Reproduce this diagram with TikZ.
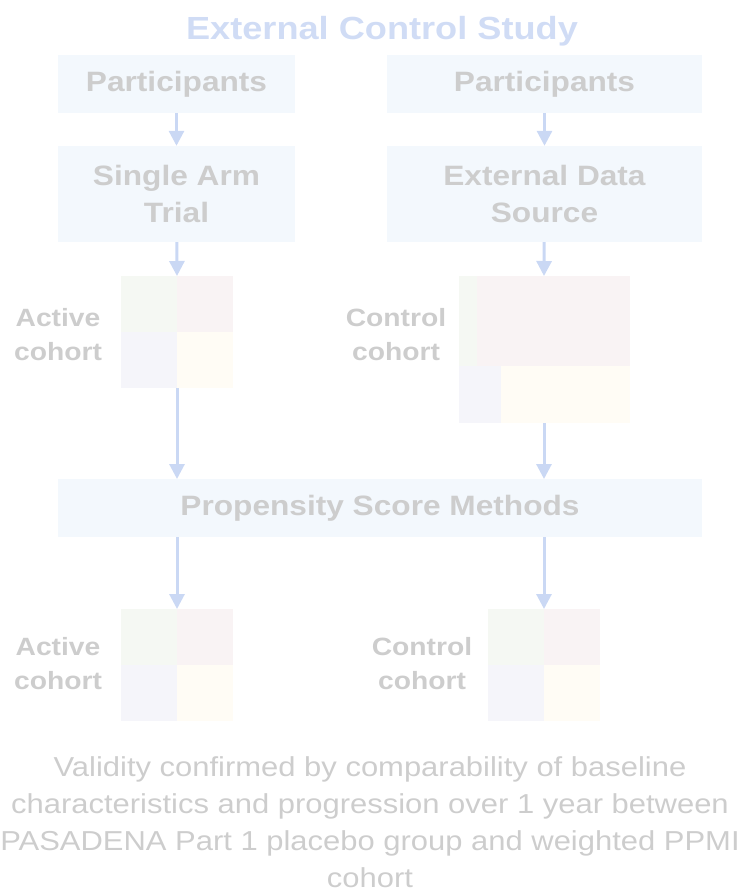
\documentclass[tikz,border=0pt]{standalone}
\usepackage{fontspec}
\setmainfont[FakeStretch=1.13]{Liberation Sans}
\usetikzlibrary{arrows.meta,positioning}
\definecolor{titleblue}{HTML}{D0DCF5}
\definecolor{boxfill}{HTML}{F3F8FD}
\definecolor{txtgray}{HTML}{CDCDCD}
\definecolor{arrowblue}{HTML}{CAD8F4}
\definecolor{cellgreen}{HTML}{F5F8F3}
\definecolor{cellpink}{HTML}{F9F3F4}
\definecolor{celllav}{HTML}{F5F5FA}
\definecolor{cellcream}{HTML}{FFFCF5}
\tikzset{
  stepbox/.style={fill=boxfill, draw=none, inner sep=0pt, align=center,
    text=txtgray, font=\fontsize{28}{37}\selectfont\bfseries},
  cohortlabel/.style={inner sep=0pt, align=center, text=txtgray,
    font=\fontsize{25}{34}\selectfont\bfseries},
  cell/.style={draw=none, inner sep=0pt, anchor=north west},
  flow/.style={draw=arrowblue, line width=3pt,
    -{Triangle[length=15pt,width=15pt]}},
}
\begin{document}
\begin{tikzpicture}[x=1pt,y=-1pt]
\useasboundingbox (0,0) rectangle (740,892);

% title
\node[text=titleblue, font=\fontsize{32}{36}\selectfont\bfseries, anchor=base] (title) at (382,39) {External Control Study};

% top boxes
\node[stepbox, minimum width=237pt, minimum height=58pt] (partL) at (176.5,84) {Participants};
\node[stepbox, minimum width=315pt, minimum height=58pt] (partR) at (544.5,84) {Participants};
\node[stepbox, minimum width=237pt, minimum height=96pt] (sat) at (176.5,194) {Single Arm\\Trial};
\node[stepbox, minimum width=315pt, minimum height=96pt] (eds) at (544.5,194) {External Data\\Source};

% active cohort grid (top)
\node[cell, fill=cellgreen, minimum width=56pt, minimum height=56pt] (a1) at (121,276) {};
\node[cell, fill=cellpink, minimum width=56pt, minimum height=56pt] (a2) at (177,276) {};
\node[cell, fill=celllav, minimum width=56pt, minimum height=56pt] (a3) at (121,332) {};
\node[cell, fill=cellcream, minimum width=56pt, minimum height=56pt] (a4) at (177,332) {};
\coordinate (atop) at (177,276);
\coordinate (abot) at (177,388);
\node[cohortlabel] (alab) at (58,335) {Active\\cohort};

% control cohort grid (top)
\node[cell, fill=cellgreen, minimum width=18pt, minimum height=90pt] (c1) at (459,276) {};
\node[cell, fill=cellpink, minimum width=153pt, minimum height=90pt] (c2) at (477,276) {};
\node[cell, fill=celllav, minimum width=42pt, minimum height=57pt] (c3) at (459,366) {};
\node[cell, fill=cellcream, minimum width=129pt, minimum height=57pt] (c4) at (501,366) {};
\coordinate (ctop) at (544,276);
\coordinate (cbot) at (544,423);
\node[cohortlabel] (clab) at (396,335) {Control\\cohort};

% propensity score box
\node[stepbox, minimum width=644pt, minimum height=58pt] (psm) at (380,508) {Propensity Score Methods};
\coordinate (psmL) at (177,479);
\coordinate (psmR) at (544,479);
\coordinate (psmLb) at (177,537);
\coordinate (psmRb) at (544,537);

% active cohort grid (bottom)
\node[cell, fill=cellgreen, minimum width=56pt, minimum height=56pt] (b1) at (121,609) {};
\node[cell, fill=cellpink, minimum width=56pt, minimum height=56pt] (b2) at (177,609) {};
\node[cell, fill=celllav, minimum width=56pt, minimum height=56pt] (b3) at (121,665) {};
\node[cell, fill=cellcream, minimum width=56pt, minimum height=56pt] (b4) at (177,665) {};
\coordinate (btop) at (177,609);
\node[cohortlabel] (blab) at (58,664) {Active\\cohort};

% control cohort grid (bottom)
\node[cell, fill=cellgreen, minimum width=56pt, minimum height=56pt] (d1) at (488,609) {};
\node[cell, fill=cellpink, minimum width=56pt, minimum height=56pt] (d2) at (544,609) {};
\node[cell, fill=celllav, minimum width=56pt, minimum height=56pt] (d3) at (488,665) {};
\node[cell, fill=cellcream, minimum width=56pt, minimum height=56pt] (d4) at (544,665) {};
\coordinate (dtop) at (544,609);
\node[cohortlabel] (dlab) at (422,664) {Control\\cohort};

% connectors
\draw[flow] (partL) -- (sat);
\draw[flow] (partR) -- (eds);
\draw[flow] (sat) -- (atop);
\draw[flow] (eds) -- (ctop);
\draw[flow] (abot) -- (psmL);
\draw[flow] (cbot) -- (psmR);
\draw[flow] (psmLb) -- (btop);
\draw[flow] (psmRb) -- (dtop);

% footnote
\node[text=txtgray, align=center, font=\fontsize{27.4}{37}\selectfont] (note) at (370,822.5)
  {Validity confirmed by comparability of baseline\\
   characteristics and progression over 1 year between\\
   PASADENA Part 1 placebo group and weighted PPMI\\
   cohort};
\end{tikzpicture}
\end{document}
